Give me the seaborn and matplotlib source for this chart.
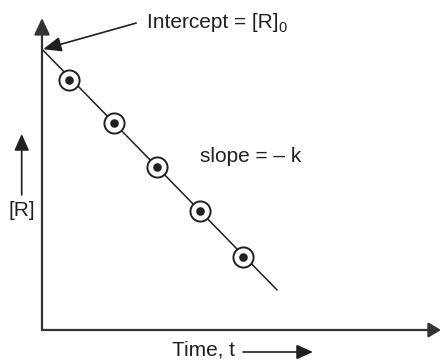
import numpy as np
import pandas as pd
import matplotlib
matplotlib.use("Agg")
import matplotlib.pyplot as plt
import seaborn as sns

# ---- data (arbitrary units) ----
t_points = [0.68, 1.80, 2.88, 3.96, 5.04]
R_points = [6.41, 5.31, 4.18, 3.05, 1.87]
R0 = 7.2          # intercept [R]0
k = 1.048         # rate constant (slope = -k)
t_line = [0.0, 5.89]

sns.set_theme(style="white")
plt.rcParams['font.family'] = ['Liberation Sans', 'DejaVu Sans']

INK = '#231f20'
W, H = 441, 362
fig = plt.figure(figsize=(W / 100, H / 100), dpi=100)
ax = fig.add_axes([42 / W, (H - 330) / H, (W - 42) / W, (330 - 18) / H])
ax.set_xlim(0, 10)
ax.set_ylim(0, 8)
for s in ax.spines.values():
    s.set_visible(False)
ax.set_xticks([])
ax.set_yticks([])
ax.patch.set_alpha(0)

line_df = pd.DataFrame({'t': t_line, 'R': [R0 - k * t for t in t_line]})
pts_df = pd.DataFrame({'t': t_points, 'R': R_points})

sns.lineplot(data=line_df, x='t', y='R', ax=ax, color=INK, lw=1.1, zorder=2)
sns.scatterplot(data=pts_df, x='t', y='R', ax=ax, s=14.5 ** 2, marker='o',
                facecolor='white', edgecolor=INK, linewidth=1.4, zorder=3)
sns.scatterplot(data=pts_df, x='t', y='R', ax=ax, s=6.2 ** 2, marker='o',
                color=INK, linewidth=0, zorder=4)
ax.set_xlabel('')
ax.set_ylabel('')

axis_style = dict(arrowstyle='-|>,head_length=0.75,head_width=0.45', lw=1.6,
                  color='#333333', shrinkA=0, shrinkB=0, mutation_scale=10)
# axes arrows
ax.annotate('', xy=(1.0, 0), xytext=(0, 0), xycoords='axes fraction',
            arrowprops=axis_style, annotation_clip=False)
ax.annotate('', xy=(0, 1.0), xytext=(0, 0), xycoords='axes fraction',
            arrowprops=dict(axis_style, arrowstyle='-|>,head_length=1.0,head_width=0.47'),
            annotation_clip=False)

head = '-|>,head_length=1.0,head_width=0.45'
# intercept annotation
ax.annotate('', xy=(0.03, 7.2), xytext=(2.36, 7.87),
            arrowprops=dict(arrowstyle='-|>,head_length=1.1,head_width=0.45', lw=1.2,
                            color=INK, shrinkA=0, shrinkB=0, mutation_scale=10))
FS = 15
main = ax.text(2.63, 7.74, 'Intercept = [R]', fontsize=FS, color=INK,
               ha='left', va='baseline')
ax.annotate('0', xy=(1, 0), xycoords=main, xytext=(-0.5, -3),
            textcoords='offset pixels', fontsize=10.5, color=INK,
            ha='left', va='bottom')
ax.text(3.96, 4.31, 'slope = – k', fontsize=FS, color=INK,
        ha='left', va='baseline')

# outside labels (figure pixel positions)
def fx(x):
    return x / W

def fy(y):
    return (H - y) / H

fig.text(fx(21.5), fy(210), '[R]', fontsize=FS, color=INK, ha='center', va='center')
fig.patches.append(matplotlib.patches.FancyArrowPatch(
    (fx(21.7), fy(195)), (fx(21.7), fy(134)), transform=fig.transFigure,
    arrowstyle=head, mutation_scale=10, lw=1.2, color=INK, shrinkA=0, shrinkB=0))
fig.text(fx(172), fy(356), 'Time, t', fontsize=FS, color=INK, ha='left', va='baseline')
fig.patches.append(matplotlib.patches.FancyArrowPatch(
    (fx(243), fy(352)), (fx(313), fy(352)), transform=fig.transFigure,
    arrowstyle=head, mutation_scale=10, lw=1.2, color=INK, shrinkA=0, shrinkB=0))

fig.savefig('out.png', dpi=100)
